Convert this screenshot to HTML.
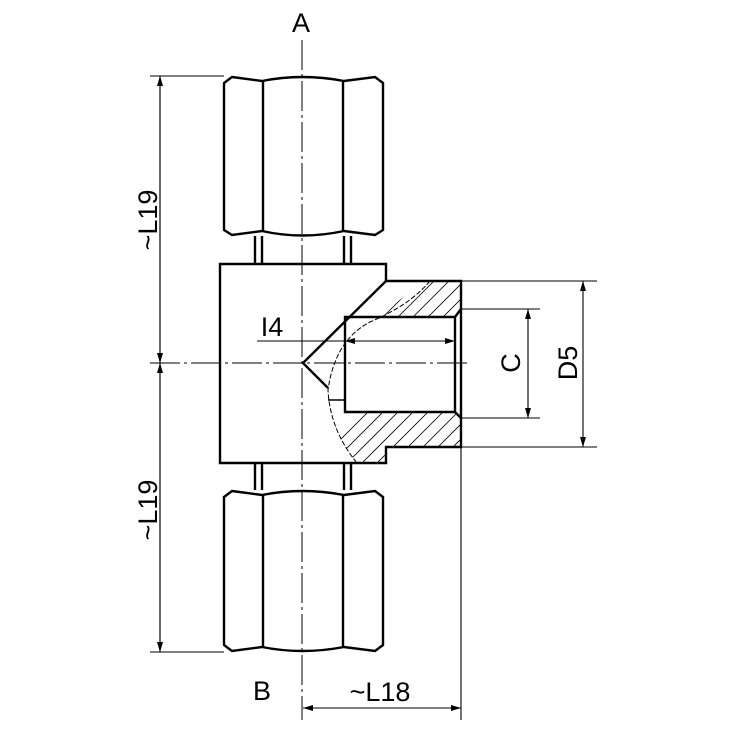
<!DOCTYPE html>
<html><head><style>html,body{margin:0;padding:0;background:#fff}svg{display:block}</style></head><body>
<svg width="730" height="730" viewBox="0 0 730 730" xmlns="http://www.w3.org/2000/svg" font-family="Liberation Sans, sans-serif">
<defs>
<clipPath id="h1"><path d="M420 281 Q395 310 345 330 L345 317 L455 317 L461 309 L461 281 Z"/></clipPath>
<clipPath id="h2"><path d="M328 400 L345 400 L345 412 L455 412 L461 418 L461 447 L386 447 L386 463 L357 463 Q330 430 328 400 Z"/></clipPath>
<marker id="ar" viewBox="0 0 10 6" refX="10" refY="3" markerWidth="11" markerHeight="6" markerUnits="userSpaceOnUse" orient="auto"><path d="M0 0 L10 3 L0 6 Z" fill="#000"/></marker>
</defs>
<g stroke="#000" fill="none">
<g stroke-width="0.8" clip-path="url(#h1)">
<path d="M300 400 L420 280 M315 400 L435 280 M330 400 L450 280 M345 400 L465 280 M360 400 L480 280 M375 400 L495 280 M390 400 L510 280 M405 400 L525 280"/>
</g>
<g stroke-width="0.8" clip-path="url(#h2)">
<path d="M300 480 L400 380 M315 480 L415 380 M330 480 L430 380 M345 480 L445 380 M360 480 L460 380 M375 480 L475 380 M390 480 L490 380 M405 480 L505 380 M420 480 L520 380 M435 480 L535 380"/>
</g>
<path d="M430 281 Q410 305 370 322 Q335 340 328 390 Q330 430 357 463" stroke-width="1" stroke-dasharray="5,2"/>
<g stroke-width="2.4">
<path d="M232 77 L262 81 Q302 73 344 81 L375 77 L383 83 L383 230 L375 235 L344 231 Q302 240 262 231 L232 235 L224 230 L224 83 Z"/>
<path d="M263 80 L263 232 M343 80 L343 232"/>
<path d="M232 491 L262 495 Q302 487 344 495 L375 491 L383 497 L383 645 L375 651 L344 647 Q302 655 262 647 L232 651 L224 645 L224 497 Z"/>
<path d="M263 495 L263 648 M343 495 L343 648"/>
<path d="M255 236 L255 264 M262 236 L262 264 M344 236 L344 264 M351 236 L351 264"/>
<path d="M255 463 L255 490 M262 463 L262 490 M344 463 L344 490 M351 463 L351 490"/>
<path d="M386 281 L386 264 L220 264 L220 463 L386 463 L386 447 L461 447 L461 281 Z"/>
<path d="M386 281 L303 363 L328 388"/>
<path d="M345 317 L345 412 L455 412 L455 317 Z M455 317 L461 309 M455 412 L461 418"/>
<path d="M328 400 L345 400" stroke-width="1.5"/>
</g>
<path d="M302 40 L302 720" stroke-width="1" stroke-dasharray="30,4,3,4"/>
<path d="M150 363 L470 363" stroke-width="1" stroke-dasharray="30,4,3,4"/>
<g stroke-width="1.1">
<path d="M150 76 L224 76 M150 652 L224 652"/>
<path d="M461 447 L461 720"/>
<path d="M461 281 L597 281 M461 447 L597 447 M461 309 L540 309 M461 418 L540 418"/>
<path d="M257 341 L455 341"/>
<path d="M160 363 L160 76" marker-end="url(#ar)"/>
<path d="M160 76 L160 363" marker-end="url(#ar)"/>
<path d="M160 652 L160 363" marker-end="url(#ar)"/>
<path d="M160 363 L160 652" marker-end="url(#ar)"/>
<path d="M380 708 L303 708" marker-end="url(#ar)"/>
<path d="M380 708 L461 708" marker-end="url(#ar)"/>
<path d="M400 341 L345 341" marker-end="url(#ar)"/>
<path d="M400 341 L455 341" marker-end="url(#ar)"/>
<path d="M528 363 L528 309" marker-end="url(#ar)"/>
<path d="M528 363 L528 418" marker-end="url(#ar)"/>
<path d="M583 363 L583 281" marker-end="url(#ar)"/>
<path d="M583 363 L583 447" marker-end="url(#ar)"/>
</g>
</g>
<g font-size="27" fill="#000">
<text x="301" y="32" text-anchor="middle">A</text>
<text x="262" y="700" text-anchor="middle">B</text>
<text x="380" y="701" text-anchor="middle">~L18</text>
<text x="272" y="336" text-anchor="middle">I4</text>
<text transform="translate(157,220) rotate(-90)" text-anchor="middle">~L19</text>
<text transform="translate(157,510) rotate(-90)" text-anchor="middle">~L19</text>
<text transform="translate(520,363) rotate(-90)" text-anchor="middle">C</text>
<text transform="translate(577,363) rotate(-90)" text-anchor="middle">D5</text>
</g>
</svg>
</body></html>
